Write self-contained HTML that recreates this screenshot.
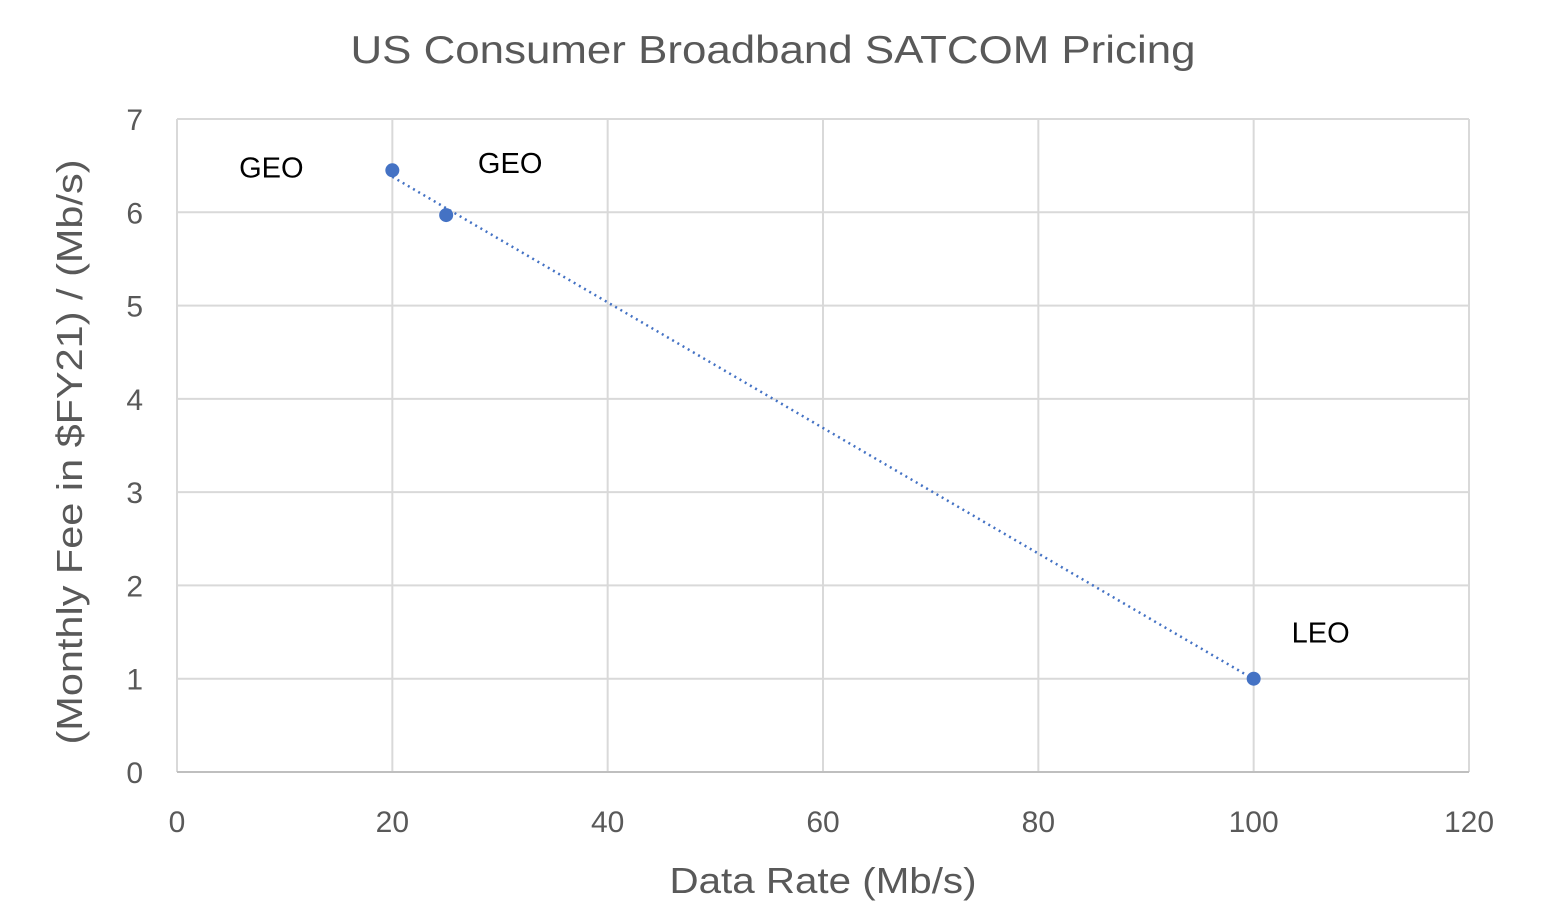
<!DOCTYPE html>
<html><head><meta charset="utf-8"><style>
body{margin:0;background:#fff;}
svg{display:block;font-family:"Liberation Sans","DejaVu Sans",sans-serif;}
</style></head><body>
<svg id="chart" width="1550" height="924">
<text x="773" y="63" text-anchor="middle" font-size="39" fill="#595959" textLength="845" lengthAdjust="spacingAndGlyphs">US Consumer  Broadband  SATCOM Pricing</text>
<g id="grid"></g><g id="marks"></g>
<text x="823" y="893" text-anchor="middle" font-size="36" fill="#595959" textLength="307" lengthAdjust="spacingAndGlyphs">Data Rate  (Mb/s)</text>
<text transform="translate(82,452) rotate(-90)" text-anchor="middle" font-size="36" fill="#595959" textLength="585" lengthAdjust="spacingAndGlyphs">(Monthly Fee  in $FY21) / (Mb/s)</text>
</svg>
<script>
const xTicks=[0,20,40,60,80,100,120];
const yTicks=[0,1,2,3,4,5,6,7];
const xValues=[20,25,100];
const yValues=[6.45,5.97,1.0];
const labels=["GEO","GEO","LEO"];
const labelDx=[-121,64,67];
const labelDy=[-3,-52,-46];
const X0=177,X1=1469,Y0=772,Y1=119;
const sx=v=>X0+(v-0)/120*(X1-X0);
const sy=v=>Y0-(v-0)/7*(Y0-Y1);
const NS="http://www.w3.org/2000/svg";
const grid=document.getElementById('grid'),marks=document.getElementById('marks');
function mk(tag,attrs,parent){const e=document.createElementNS(NS,tag);for(const k in attrs)e.setAttribute(k,attrs[k]);parent.appendChild(e);return e;}
xTicks.forEach(t=>{
 const l=mk('line',{x1:sx(t),x2:sx(t),y1:Y1,y2:Y0,stroke:'#d9d9d9','stroke-width':2},grid);
 
 
 const tx=mk('text',{x:sx(t),y:832,'text-anchor':'middle','font-size':30,fill:'#595959'},grid);
 tx.textContent=t;
 
 
});
yTicks.forEach(t=>{
 const l=mk('line',{x1:X0,x2:X1,y1:sy(t),y2:sy(t),stroke:'#d9d9d9','stroke-width':2},grid);
 
 
 const tx=mk('text',{x:143,y:sy(t)+11,'text-anchor':'end','font-size':30,fill:'#595959'},grid);
 tx.textContent=t;
 
 
});
const ax=mk('line',{x1:X0,x2:X1,y1:Y0,y2:Y0,stroke:'#bfbfbf','stroke-width':2},grid);


const n=xValues.length,mx=xValues.reduce((a,b)=>a+b)/n,my=yValues.reduce((a,b)=>a+b)/n;
let num=0,den=0;for(let i=0;i<n;i++){num+=(xValues[i]-mx)*(yValues[i]-my);den+=(xValues[i]-mx)**2;}
const m=num/den,b=my-m*mx;
const xmin=Math.min(...xValues),xmax=Math.max(...xValues);
const tl=mk('line',{x1:sx(xmin),y1:sy(m*xmin+b),x2:sx(xmax),y2:sy(m*xmax+b),stroke:'#4472c4','stroke-width':2.5,'stroke-dasharray':'2 4'},marks);


xValues.forEach((x,i)=>{
 const c=mk('circle',{cx:sx(x),cy:sy(yValues[i]),r:7,fill:'#4472c4'},marks);
 
 
 const t=mk('text',{x:sx(x)+labelDx[i],y:sy(yValues[i])+labelDy[i]+10,'text-anchor':'middle','font-size':29,fill:'#000'},marks);
 t.textContent=labels[i];
 
 
});
</script>
</body></html>
